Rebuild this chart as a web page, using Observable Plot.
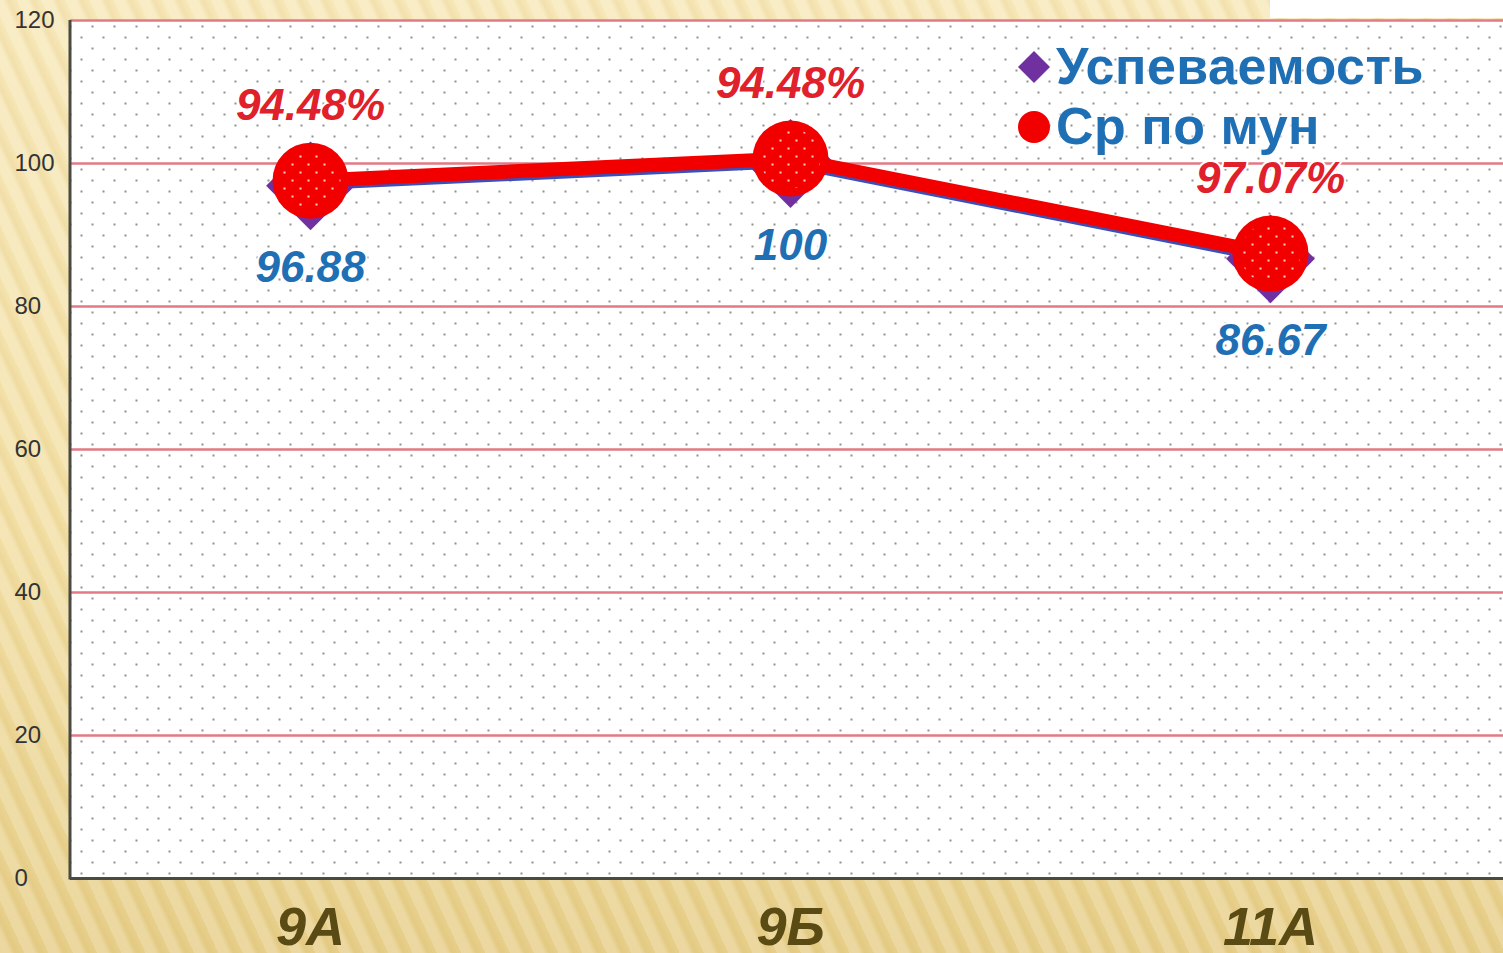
<!DOCTYPE html>
<html>
<head>
<meta charset="utf-8">
<script src="https://cdn.jsdelivr.net/npm/d3@7"></script>
<script src="https://cdn.jsdelivr.net/npm/@observablehq/plot@0.6"></script>
<style>
  html, body { margin: 0; padding: 0; }
  body {
    width: 1503px; height: 953px; overflow: hidden; position: relative;
    font-family: "Liberation Sans", Arial, sans-serif;
    background:
      repeating-linear-gradient(65deg, rgba(255,255,255,0.18) 0px, rgba(255,255,255,0.18) 9px, rgba(190,150,60,0.10) 14px, rgba(255,255,255,0.0) 22px),
      linear-gradient(180deg, #f8e9bb 0%, #f3e0a6 55%, #e7cf8a 100%);
  }
  #whitecorner { position: absolute; left: 1270px; top: 0; width: 233px; height: 18px; background: #fff; }
  #chart { position: absolute; left: 0; top: 0; width: 1510px; }
  #chart svg { max-width: none !important; }
  #chart svg text.lbl { letter-spacing: 2px; }
  .legend { position: absolute; left: 1016px; top: 40px; }
  .legend .item { position: absolute; left: 0; white-space: nowrap; font-weight: bold; font-size: 52px; color: #1f6fb5;
    text-shadow: 0 0 3px #fff, 0 0 3px #fff; line-height: 1; letter-spacing: 0.5px; }
  .legend svg { vertical-align: middle; }
</style>
</head>
<body>
<div id="whitecorner"></div>
<div id="chart"></div>
<div class="legend">
  <div class="item" id="leg1" style="top:0px;"></div>
  <div class="item" id="leg2" style="top:60px;"></div>
</div>
<script>
const categories = ["9А", "9Б", "11А"];
const uspevaemost = [96.88, 100, 86.67];
const srPoMun = [97.6, 100.7, 87.4];
const uspLabels = ["96.88", "100", "86.67"];
const srLabels = ["94.48%", "94.48%", "97.07%"];
const yTicks = [0, 20, 40, 60, 80, 100, 120];
const seriesNames = ["Успеваемость", "Ср по мун"];

const rows = categories.map((c, i) => ({
  cat: c, usp: uspevaemost[i], sr: srPoMun[i], uspLabel: uspLabels[i], srLabel: srLabels[i]
}));

const chart = Plot.plot({
  width: 1510,
  height: 953,
  marginLeft: 70,
  marginRight: 0,
  marginTop: 20,
  marginBottom: 75,
  style: { background: "transparent", fontFamily: "'Liberation Sans', Arial, sans-serif", overflow: "visible", maxWidth: "none" },
  x: { type: "point", domain: categories, padding: 0.5, label: null },
  y: { domain: [0, 120], label: null },
  marks: [
    Plot.frame({ fill: "white", stroke: null }),
    Plot.frame({ fill: "url(#dots)", stroke: null }),
    Plot.ruleY(yTicks.filter(d => d > 0), { stroke: "#e27a86", strokeWidth: 2.5 }),
    Plot.ruleY([0], { stroke: "#4a4a44", strokeWidth: 3 }),
    Plot.axisY({ ticks: yTicks, tickSize: 0, tickPadding: 56, textAnchor: "start", fontSize: 24, fill: "#333", label: null }),
    Plot.axisX({ tickSize: 0, tickPadding: 28, fontSize: 54, fontWeight: "bold", fontStyle: "italic", fill: "#5a4a14", label: null }),
    Plot.lineY(rows, { x: "cat", y: "usp", stroke: "#3b4fb8", strokeWidth: 9 }),
    Plot.dot(rows, { x: "cat", y: "usp", symbol: "diamond2", r: 40, fill: "#7030a0", stroke: null }),
    Plot.lineY(rows, { x: "cat", y: "sr", stroke: "#f20000", strokeWidth: 14 }),
    Plot.dot(rows, { x: "cat", y: "sr", r: 38, fill: "#f20000", stroke: null }),
    Plot.dot(rows, { x: "cat", y: "sr", r: 30, fill: "url(#wdots)", stroke: null }),
    Plot.text(rows, { x: "cat", y: "sr", text: "srLabel", dy: -75, fontSize: 44, fontWeight: "bold", fontStyle: "italic",
      fill: "#e0202a", stroke: "white", strokeWidth: 4, className: "lbl" }),
    Plot.text(rows, { x: "cat", y: "usp", text: "uspLabel", dy: 82, fontSize: 44, fontWeight: "bold", fontStyle: "italic",
      fill: "#1f6fb5", stroke: "white", strokeWidth: 4, className: "lbl" })
  ]
});

const svg = d3.select(chart.tagName.toLowerCase() === "svg" ? chart : chart.querySelector("svg"));
svg.style("max-width", "none");
const defs = svg.insert("defs", ":first-child");
const p = defs.append("pattern").attr("id", "dots").attr("patternUnits", "userSpaceOnUse")
  .attr("width", 22).attr("height", 22);
p.append("circle").attr("cx", 4).attr("cy", 4).attr("r", 1.1).attr("fill", "#777");
p.append("circle").attr("cx", 15).attr("cy", 15).attr("r", 1.1).attr("fill", "#777");
const w = defs.append("pattern").attr("id", "wdots").attr("patternUnits", "userSpaceOnUse")
  .attr("width", 16).attr("height", 16);
w.append("circle").attr("cx", 4).attr("cy", 4).attr("r", 1.1).attr("fill", "#fff");
w.append("circle").attr("cx", 12).attr("cy", 12).attr("r", 1.1).attr("fill", "#fff");

const ys = chart.scale("y"), xs = chart.scale("x");
svg.append("line")
  .attr("x1", xs.range[0]).attr("x2", xs.range[0])
  .attr("y1", ys.apply(0) + 1.5).attr("y2", ys.apply(120))
  .attr("stroke", "#4a4a44").attr("stroke-width", 3);

document.getElementById("chart").appendChild(chart);

const sym1 = '<svg width="36" height="36" viewBox="-18 -18 36 36" style="margin-right:4px;margin-top:-6px"><path d="M0,-16L16,0L0,16L-16,0Z" fill="#7030a0"/></svg>';
const sym2 = '<svg width="36" height="36" viewBox="-18 -18 36 36" style="margin-right:4px;margin-top:-6px"><circle r="16" fill="#f20000"/></svg>';
document.getElementById("leg1").innerHTML = sym1 + seriesNames[0];
document.getElementById("leg2").innerHTML = sym2 + seriesNames[1];
</script>
</body>
</html>
